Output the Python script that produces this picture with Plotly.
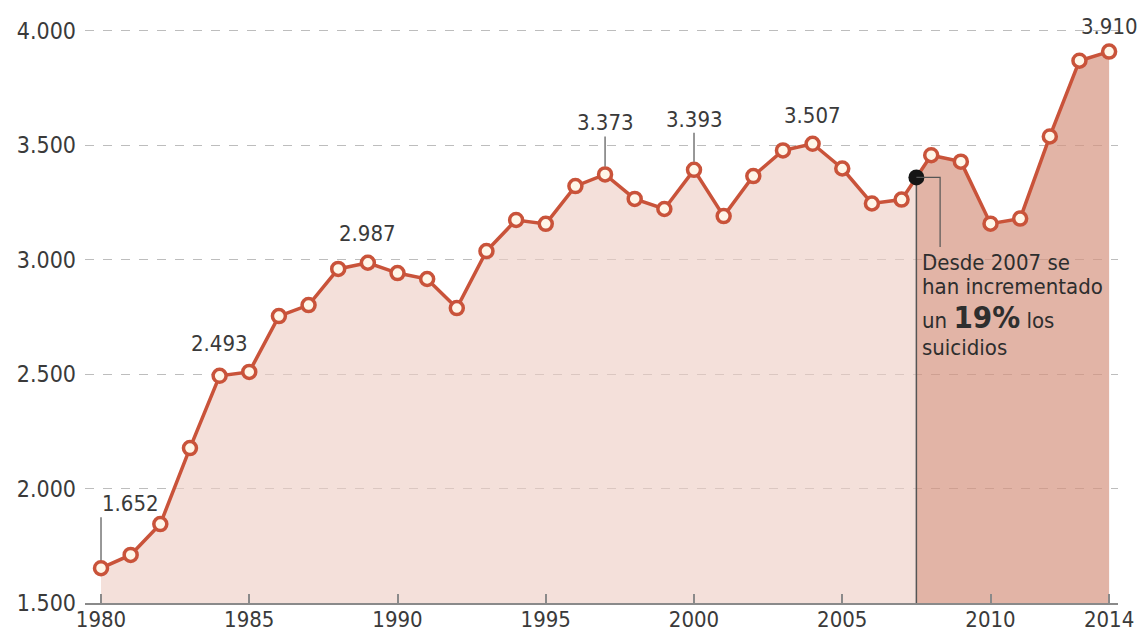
import plotly.graph_objects as go

# Suicidios en España, 1980-2014
years = list(range(1980, 2015))
suicides = [1652, 1710, 1845, 2177, 2493, 2510, 2754, 2802, 2960, 2987,
            2942, 2916, 2789, 3038, 3174, 3157, 3322, 3373, 3266, 3222,
            3393, 3191, 3366, 3478, 3507, 3399, 3246, 3263, 3457, 3429,
            3158, 3180, 3539, 3870, 3910]

x_ticks = [1980, 1985, 1990, 1995, 2000, 2005, 2010, 2014]
y_ticks = [1500, 2000, 2500, 3000, 3500, 4000]

# labelled years: (year, vertical offset of the label, draw a leader line)
labelled = [(1980, 51, True), (1984, 32, False), (1989, 29, False),
            (1997, 38, True), (2000, 37, True), (2004, 28, False),
            (2014, 25, False)]

# note lines with their vertical offsets (px) below the leader end
note_lines = [("Desde 2007 se", 16),
              ("han incrementado", 40),
              ("un <b><span style='font-size:31px'>19%</span></b> los", 70),
              ("suicidios", 101)]

split_year = 2007.5  # start of the highlighted period

LINE = "#c9533a"
LIGHT = "rgba(238,205,196,0.62)"
DARK = "rgba(214,148,128,0.70)"
TXT = "#3a3a3a"
FONT = "DejaVu Sans Condensed, Liberation Sans Narrow, Roboto Condensed, Arial Narrow, sans-serif"

# value on the line at the split point
i0 = years.index(int(split_year))
split_val = suicides[i0] + (suicides[i0 + 1] - suicides[i0]) * (split_year - years[i0])

fig = go.Figure()

# shaded areas under the line
fig.add_trace(go.Scatter(
    x=years[:i0 + 1] + [split_year], y=suicides[:i0 + 1] + [split_val],
    fill="tozeroy", fillcolor=LIGHT, mode="none", hoverinfo="skip"))
fig.add_trace(go.Scatter(
    x=[split_year] + years[i0 + 1:], y=[split_val] + suicides[i0 + 1:],
    fill="tozeroy", fillcolor=DARK, mode="none", hoverinfo="skip"))

# vertical divider
fig.add_trace(go.Scatter(
    x=[split_year, split_year], y=[1500, split_val], mode="lines",
    line=dict(color="#555555", width=1.5), hoverinfo="skip"))

# main series
fig.add_trace(go.Scatter(
    x=years, y=suicides, mode="lines+markers",
    line=dict(color=LINE, width=3.5),
    marker=dict(size=13, color="#fff6e8", line=dict(color=LINE, width=3.5))))

# dot marking the start of the period
fig.add_trace(go.Scatter(
    x=[split_year], y=[split_val], mode="markers",
    marker=dict(size=16, color="#151515")))

for yr, off, leader in labelled:
    v = suicides[years.index(yr)]
    label = f"{v:,d}".replace(",", ".")
    if leader:
        fig.add_annotation(
            x=yr, y=v, text=label,
            showarrow=True, arrowhead=0, arrowwidth=1.2, arrowcolor="#555555",
            ax=0, ay=-off, standoff=8,
            xanchor="left" if yr == 1980 else "center", yanchor="bottom",
            font=dict(family=FONT, size=22, color=TXT), borderpad=0)
    else:
        fig.add_annotation(
            x=yr, y=v, text=label, showarrow=False,
            yshift=off, font=dict(family=FONT, size=22, color=TXT))

# leader from the black dot to the note
note_y = 3056
fig.add_shape(type="path",
              path=f"M {split_year},{split_val} L {split_year + 0.8},{split_val} "
                   f"L {split_year + 0.8},{note_y}",
              line=dict(color="#555555", width=1.2))

for txt, dy in note_lines:
    fig.add_annotation(
        x=split_year, y=note_y, xanchor="left", yanchor="middle",
        xshift=4, yshift=-dy, showarrow=False, align="left",
        text=txt, font=dict(family=FONT, size=22, color="#2e2e2e"))

fig.update_layout(
    width=1143, height=636,
    margin=dict(l=85, r=25, t=20, b=33),
    paper_bgcolor="white", plot_bgcolor="white",
    showlegend=False, separators=",.",
    font=dict(family=FONT, color=TXT),
    xaxis=dict(range=[1979.46, 2014.3], tickvals=x_ticks, automargin=False,
               showgrid=False, zeroline=False,
               showline=True, linecolor="#8a8a8a", linewidth=2,
               ticks="inside", ticklen=9, tickcolor="#8a8a8a", tickwidth=1.5,
               ticklabelstandoff=-4,
               tickfont=dict(family=FONT, size=22, color=TXT)),
    yaxis=dict(range=[1500, 4048], tickvals=y_ticks, tickformat=",d",
               automargin=False,
               showgrid=True, gridcolor="#bdbdbd", griddash="dash", gridwidth=1,
               zeroline=False, showline=False, ticks="",
               ticklabelstandoff=8,
               tickfont=dict(family=FONT, size=23, color=TXT)),
)

fig.write_html("out.html")
